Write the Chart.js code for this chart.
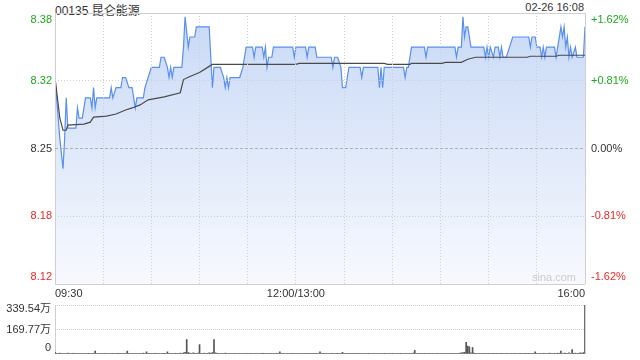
<!DOCTYPE html>
<html>
<head>
<meta charset="utf-8">
<script src="https://cdn.jsdelivr.net/npm/chart.js@4.4.1/dist/chart.umd.min.js"></script>
<style>
  body { margin: 0; background: #fff; width: 640px; height: 360px; overflow: hidden; position: relative; font-family: Arial, "Liberation Sans", "Noto Sans CJK SC", sans-serif; }
  #title { position: absolute; left: 55px; top: 1px; font-size: 12px; color: #333; }
  #stamp { position: absolute; right: 56px; top: 1px; font-size: 11px; color: #333; }
  #priceBox { position: absolute; left: 0; top: 0; width: 640px; height: 300px; }
  #volBox { position: absolute; left: 0; top: 295px; width: 640px; height: 65px; }
</style>
</head>
<body>
<div id="title">00135 昆仑能源</div>
<div id="stamp">02-26 16:08</div>
<div id="priceBox"><canvas id="priceChart" width="640" height="300"></canvas></div>
<div id="volBox"><canvas id="volChart" width="640" height="65"></canvas></div>
<script>
// ============================================================
// 00135 昆仑能源 – Intraday (Minuten seit 09:30, Mittagspause entfernt)
// ============================================================

const PREV_CLOSE = 8.25;
const SESSION_END = 330;   // 09:30–12:00 + 13:00–16:00

// ── Achsen / Beschriftungen ─────────────────────────────────
const pctTicks    = [-1.62, -0.81, 0, 0.81, 1.62];
const priceLabels = ['8.12', '8.18', '8.25', '8.32', '8.38'];
const pctLabels   = ['-1.62%', '-0.81%', '0.00%', '+0.81%', '+1.62%'];
const gridMinutes = [0, 30, 60, 90, 120, 150, 180, 210, 240, 270, 300, 330];
const timeLabels  = { 0: '09:30', 150: '12:00/13:00', 330: '16:00' };
const volTicks    = [0, 169.77, 339.54];
const volLabels   = ['0', '169.77万', '339.54万'];

// ── Kurs (Minute, Preis) ────────────────────────────────────
const priceMinutes = [
  0, 1, 3, 5, 6, 7, 8, 13, 14, 15, 17, 19, 22, 23, 24, 25, 26, 34, 35, 36,
  38, 41, 42, 44, 46, 48, 50, 51, 55, 56, 58, 60, 65, 66, 68, 70, 71, 72, 73, 74,
  79, 80, 81, 83, 84, 87, 88, 96, 98, 99, 103, 105, 106, 107, 108, 109, 115, 117, 119, 123,
  124, 125, 129, 130, 131, 132, 133, 135, 136, 148, 149, 150, 156, 157, 158, 162, 163, 172, 173, 174,
  176, 178, 179, 181, 183, 190, 191, 192, 201, 202, 203, 204, 205, 217, 218, 219, 220, 222, 230, 231,
  232, 249, 250, 251, 253, 254, 255, 256, 257, 259, 267, 268, 269, 270, 271, 273, 274, 276, 277, 278,
  279, 281, 283, 285, 295, 296, 297, 299, 300, 302, 303, 304, 305, 306, 311, 312, 313, 315, 316, 317,
  318, 319, 320, 321, 322, 324, 325, 328, 329, 330
];
const prices = [
  8.32, 8.30, 8.26, 8.23, 8.26, 8.30, 8.27, 8.27, 8.29, 8.28, 8.28, 8.30, 8.30, 8.29, 8.31, 8.29, 8.30, 8.30, 8.31, 8.30,
  8.31, 8.31, 8.32, 8.32, 8.31, 8.31, 8.29, 8.30, 8.30, 8.31, 8.32, 8.33, 8.33, 8.34, 8.34, 8.33, 8.32, 8.33, 8.32, 8.33,
  8.33, 8.35, 8.38, 8.35, 8.36, 8.36, 8.37, 8.37, 8.31, 8.33, 8.33, 8.32, 8.31, 8.32, 8.31, 8.32, 8.32, 8.33, 8.35, 8.35,
  8.34, 8.35, 8.35, 8.34, 8.35, 8.33, 8.34, 8.34, 8.35, 8.35, 8.34, 8.35, 8.35, 8.34, 8.35, 8.35, 8.34, 8.34, 8.33, 8.34,
  8.34, 8.33, 8.31, 8.31, 8.33, 8.33, 8.32, 8.33, 8.33, 8.31, 8.33, 8.31, 8.33, 8.33, 8.32, 8.33, 8.33, 8.35, 8.35, 8.34,
  8.35, 8.35, 8.34, 8.35, 8.35, 8.38, 8.36, 8.37, 8.37, 8.35, 8.35, 8.34, 8.35, 8.34, 8.35, 8.34, 8.35, 8.35, 8.34, 8.35,
  8.34, 8.34, 8.35, 8.36, 8.36, 8.35, 8.36, 8.36, 8.35, 8.35, 8.34, 8.35, 8.34, 8.35, 8.35, 8.34, 8.35, 8.37, 8.36, 8.37,
  8.35, 8.36, 8.34, 8.35, 8.34, 8.35, 8.34, 8.34, 8.34, 8.37
];

// ── Durchschnittspreis (Minute, Preis) ──────────────────────
const avgMinutes = [0, 3, 5, 7, 8, 18, 22, 24, 32, 38, 44, 48, 53, 58, 68, 78, 80, 84, 90, 96, 98, 150, 152, 205, 207, 221, 222, 241, 243, 253, 257, 262, 294, 296, 312, 314, 330];
const avgPrices  = [8.32, 8.28, 8.268, 8.268, 8.273, 8.274, 8.276, 8.281, 8.282, 8.284, 8.288, 8.29, 8.293, 8.298, 8.301, 8.305, 8.318, 8.321, 8.325, 8.331, 8.333, 8.333, 8.334, 8.334, 8.333, 8.333, 8.334, 8.334, 8.335, 8.335, 8.338, 8.34, 8.34, 8.341, 8.341, 8.342, 8.342];

// ── Volumen je Minute (万 Aktien), Index = Minute ───────────
const volumes = [
  12, 5, 4, 6, 3, 5, 4, 3, 6, 4, 3, 5, 2, 4, 3, 5, 4, 3, 2, 4, 3, 5, 4, 3, 2, 20, 4, 3, 5, 3,
  4, 2, 3, 5, 4, 3, 2, 4, 3, 5, 2, 3, 4, 3, 5, 20, 4, 3, 2, 4, 3, 5, 4, 2, 3, 6, 4, 15, 3, 2,
  4, 3, 5, 2, 3, 4, 3, 2, 5, 4, 15, 3, 2, 4, 3, 5, 4, 3, 6, 5, 8, 12, 100, 10, 6, 4, 8, 5, 4, 6,
  65, 5, 4, 6, 3, 5, 8, 6, 10, 100, 8, 5, 4, 3, 5, 4, 6, 3, 4, 5, 3, 2, 4, 3, 5, 4, 3, 2, 4, 3,
  3, 2, 4, 3, 2, 3, 4, 2, 3, 5, 2, 3, 4, 2, 3, 2, 4, 3, 2, 3, 15, 3, 2, 4, 3, 2, 3, 4, 2, 3,
  4, 3, 2, 4, 3, 5, 2, 3, 4, 2, 3, 4, 2, 3, 4, 15, 3, 2, 4, 3, 2, 3, 5, 2, 3, 4, 2, 3, 4, 12,
  3, 2, 4, 3, 2, 3, 4, 2, 3, 5, 2, 3, 4, 2, 3, 2, 4, 3, 2, 3, 4, 3, 2, 4, 3, 2, 3, 4, 2, 3,
  2, 3, 4, 2, 3, 2, 4, 3, 2, 3, 4, 5, 3, 6, 25, 4, 3, 2, 4, 3, 2, 3, 4, 2, 3, 4, 2, 3, 2, 4,
  3, 2, 4, 3, 2, 3, 4, 2, 3, 5, 4, 3, 6, 8, 10, 12, 80, 55, 50, 8, 45, 6, 4, 3, 5, 4, 3, 2, 4, 3,
  2, 3, 4, 2, 3, 2, 4, 3, 2, 3, 4, 2, 3, 4, 2, 3, 5, 2, 3, 4, 2, 3, 4, 2, 3, 2, 4, 3, 2, 15,
  3, 4, 2, 3, 5, 2, 4, 3, 6, 4, 3, 5, 4, 6, 5, 20, 4, 6, 5, 3, 8, 4, 30, 5, 6, 4, 5, 8, 6, 10,
  339.54
];

// ── Farben ──────────────────────────────────────────────────
const GREEN = '#1fa81f';
const RED   = '#f02525';
const DARK  = '#333';
const FONT  = '11px Arial, "Liberation Sans", "Noto Sans CJK SC", sans-serif';

const isEdge = v => v === 0 || v === SESSION_END;

// ── Plugin: Preis- und Prozentbeschriftung ──────────────────
const priceAxisText = {
  id: 'priceAxisText',
  afterDraw(chart) {
    const { ctx, chartArea: a, scales: { y } } = chart;
    ctx.save();
    ctx.font = FONT;
    ctx.textBaseline = 'middle';
    pctTicks.forEach((p, i) => {
      let py = y.getPixelForValue(PREV_CLOSE * (1 + p / 100));
      py = Math.min(Math.max(py, a.top + 7), a.bottom - 7);
      ctx.fillStyle = p > 0 ? GREEN : (p < 0 ? RED : DARK);
      ctx.textAlign = 'right';
      ctx.fillText(priceLabels[i], a.left - 3, py);
      ctx.textAlign = 'left';
      ctx.fillText(pctLabels[i], a.right + 6, py);
    });
    // Wasserzeichen
    ctx.fillStyle = '#ccc';
    ctx.textAlign = 'right';
    ctx.fillText('sina.com', a.right - 9, a.bottom - 6);
    ctx.restore();
  }
};

// ── Plugin: Volumenbeschriftung ─────────────────────────────
const volAxisText = {
  id: 'volAxisText',
  afterDraw(chart) {
    const { ctx, chartArea: a, scales: { y } } = chart;
    ctx.save();
    ctx.font = FONT;
    ctx.textBaseline = 'middle';
    ctx.fillStyle = DARK;
    ctx.textAlign = 'right';
    volTicks.forEach((v, i) => {
      let py = y.getPixelForValue(v);
      py = Math.min(Math.max(py, a.top + 3.5), a.bottom - 6);
      ctx.fillText(volLabels[i], a.left - 4, py);
    });
    ctx.restore();
  }
};

// ── Kurschart ───────────────────────────────────────────────
const priceData = priceMinutes.map((m, i) => ({ x: m, y: prices[i] }));
const avgData   = avgMinutes.map((m, i) => ({ x: m, y: avgPrices[i] }));

new Chart(document.getElementById('priceChart'), {
  type: 'line',
  data: {
    datasets: [
      {
        data: avgData,
        borderColor: '#4a4a4a',
        borderWidth: 1.2,
        pointRadius: 0,
        fill: false,
        tension: 0
      },
      {
        data: priceData,
        borderColor: '#5a8ff0',
        borderWidth: 1.2,
        pointRadius: 0,
        tension: 0,
        fill: 'start',
        backgroundColor: (c) => {
          const a = c.chart.chartArea;
          if (!a) return 'rgba(0,0,0,0)';
          const g = c.chart.ctx.createLinearGradient(0, a.top, 0, a.bottom);
          g.addColorStop(0, '#c8d9f6');
          g.addColorStop(1, '#f7f9fe');
          return g;
        }
      }
    ]
  },
  options: {
    responsive: false,
    animation: false,
    layout: { padding: { top: 13, left: 55, right: 55, bottom: 0 } },
    plugins: { legend: { display: false }, tooltip: { enabled: false } },
    scales: {
      x: {
        type: 'linear',
        min: 0,
        max: SESSION_END,
        afterBuildTicks: s => { s.ticks = gridMinutes.map(v => ({ value: v })); },
        afterFit: s => { s.height = 16; },
        ticks: {
          autoSkip: false,
          maxRotation: 0,
          align: 'inner',
          padding: 3,
          color: DARK,
          font: { size: 11, family: 'Arial, "Liberation Sans", sans-serif' },
          callback: v => timeLabels[v] || ''
        },
        grid: {
          z: 1,
          drawTicks: false,
          color: '#cfcfcf',
          lineWidth: 1
        },
        border: { display: false, dash: c => (c.tick && isEdge(c.tick.value)) ? [] : [1, 2] }
      },
      y: {
        min: PREV_CLOSE * (1 - 0.0162),
        max: PREV_CLOSE * (1 + 0.0162),
        afterBuildTicks: s => { s.ticks = pctTicks.map(p => ({ value: PREV_CLOSE * (1 + p / 100) })); },
        afterFit: s => { s.width = 0; },
        ticks: { display: false },
        grid: {
          z: 1,
          drawTicks: false,
          color: c => (c.index === 2 ? '#b0b0b0' : '#cfcfcf'),
          lineWidth: 1
        },
        border: {
          display: false,
          dash: c => (c.index === 0 || c.index === pctTicks.length - 1) ? [] : (c.index === 2 ? [3, 2] : [1, 2])
        }
      }
    }
  },
  plugins: [priceAxisText]
});

// ── Volumenchart ────────────────────────────────────────────
const volData = volumes.map((v, m) => ({ x: m, y: v }));

new Chart(document.getElementById('volChart'), {
  type: 'bar',
  data: {
    datasets: [{
      data: volData,
      backgroundColor: '#555',
      barThickness: 1,
      borderWidth: 0
    }]
  },
  options: {
    responsive: false,
    animation: false,
    layout: { padding: { top: 10, left: 55, right: 55, bottom: 6 } },
    plugins: { legend: { display: false }, tooltip: { enabled: false } },
    scales: {
      x: {
        type: 'linear',
        min: 0,
        max: SESSION_END,
        offset: false,
        afterBuildTicks: s => { s.ticks = [{ value: 0 }, { value: SESSION_END }]; },
        afterFit: s => { s.height = 0; },
        ticks: { display: false },
        grid: { offset: false, drawTicks: false, color: '#cfcfcf', lineWidth: 1 },
        border: { display: false }
      },
      y: {
        min: 0,
        max: volTicks[2],
        afterBuildTicks: s => { s.ticks = volTicks.map(v => ({ value: v })); },
        afterFit: s => { s.width = 0; },
        ticks: { display: false },
        grid: {
          drawTicks: false,
          color: c => (c.index === 0 ? 'rgba(0,0,0,0)' : '#cfcfcf'),
          lineWidth: 1
        },
        border: { display: false, dash: [1, 1] }
      }
    }
  },
  plugins: [volAxisText]
});
</script>
</body>
</html>
